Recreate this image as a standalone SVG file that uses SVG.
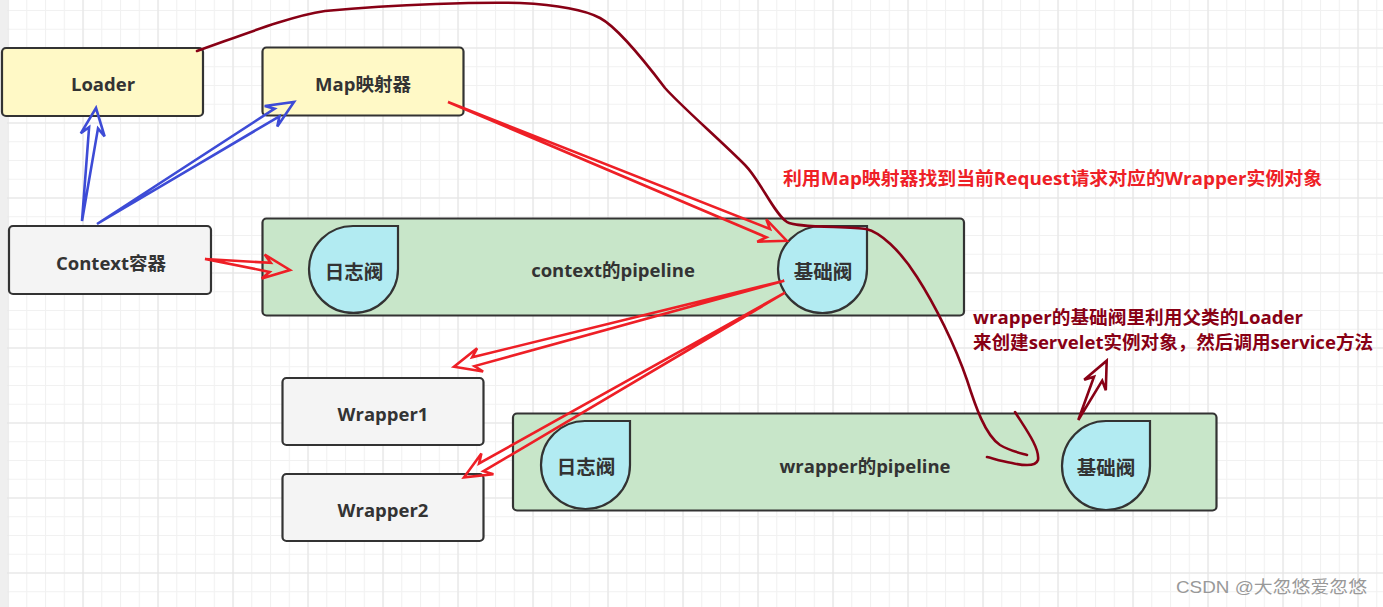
<svg xmlns="http://www.w3.org/2000/svg" width="1383" height="607" viewBox="0 0 1383 607">
<defs>
<pattern id="gs" patternUnits="userSpaceOnUse" x="7.5" y="10" width="18.75" height="18.75">
<path d="M0,0.5 H18.75 M0.5,0 V18.75" stroke="#f1f1f1" stroke-width="1.2" fill="none"/>
</pattern>
<pattern id="gl" patternUnits="userSpaceOnUse" x="7.5" y="47.5" width="75" height="75">
<path d="M0,0.5 H75 M0.5,0 V75" stroke="#e4e4e4" stroke-width="1.2" fill="none"/>
</pattern>
<style>
.box{stroke:#333;stroke-width:2.2}
.yel{fill:#fff9c6}
.gry{fill:#f4f4f4}
.pipe{fill:#c8e6c9}
.valve{fill:#b2ebf2;stroke:#333;stroke-width:2.2}
.t{font-family:"Open Sans","Noto Sans CJK SC",sans-serif;font-weight:bold;font-size:18.5px;fill:#333;text-anchor:middle;dominant-baseline:central}
.v{font-size:19.5px}
.blue{fill:none;stroke:#3d4bd6;stroke-width:2.6;stroke-linejoin:miter}
.red{fill:none;stroke:#ee1f26;stroke-width:2.6;stroke-linejoin:miter}
.dred{fill:none;stroke:#880015;stroke-width:2.6;stroke-linecap:round;stroke-linejoin:round}
.lbl{font-family:"Open Sans","Noto Sans CJK SC",sans-serif;font-weight:bold;font-size:18px}
</style>
</defs>
<rect width="1383" height="607" fill="#ffffff"/>
<rect width="1383" height="607" fill="url(#gs)"/>
<rect width="1383" height="607" fill="url(#gl)"/>
<rect x="0" y="0" width="7" height="607" fill="#efefef"/>

<g id="loader"><rect class="box yel" x="2" y="48" width="201" height="68" rx="4"/><text class="t" x="103" y="83">Loader</text></g>
<g id="map"><rect class="box yel" x="262.5" y="47.5" width="201" height="68" rx="4"/><text class="t" x="363" y="83">Map映射器</text></g>
<g id="context"><rect class="box gry" x="9" y="226" width="202" height="68" rx="4"/><text class="t" x="111" y="262">Context容器</text></g>
<g id="ctxpipe"><rect class="box pipe" x="262.5" y="218.5" width="701.5" height="97" rx="4"/><text class="t" x="613" y="269">context的pipeline</text></g>
<g id="ctxlog"><path class="valve" d="M353,226 H398 V269 A44.5,44 0 0 1 309,269 A44,43 0 0 1 353,226 Z"/><text class="t v" x="354" y="271">日志阀</text></g>
<g id="ctxbase"><path class="valve" d="M822,226 H867 V269 A44.5,44 0 0 1 778,269 A44,43 0 0 1 822,226 Z"/><text class="t v" x="823" y="271">基础阀</text></g>
<g id="wrapper1"><rect class="box gry" x="282.5" y="378" width="201" height="67" rx="4"/><text class="t" x="383" y="413">Wrapper1</text></g>
<g id="wrapper2"><rect class="box gry" x="282.5" y="474" width="201" height="67" rx="4"/><text class="t" x="383" y="509">Wrapper2</text></g>
<g id="wrpipe"><rect class="box pipe" x="513" y="413.5" width="703.5" height="97" rx="4"/><text class="t" x="865" y="465">wrapper的pipeline</text></g>
<g id="wrlog"><path class="valve" d="M586,421 H630 V465 A44.5,44 0 0 1 541,465 A44,44 0 0 1 586,421 Z"/><text class="t v" x="586" y="466">日志阀</text></g>
<g id="wrbase"><path class="valve" d="M1106,421 H1150 V466 A44,44 0 0 1 1062,466 A44,45 0 0 1 1106,421 Z"/><text class="t v" x="1106" y="467">基础阀</text></g>

<g id="connectors">
<polygon class="blue" points="82,221 89.1,127.3 80.8,133.3 96,108 104.6,136.3 98,128.4"/>
<polygon class="blue" points="97,224 274.6,108.7 264.7,106 294,102 277.3,126.4 279.4,116.3"/>
<polygon class="red" points="205,259 270.8,262.9 264.7,254.6 290,270 261.7,278.4 269.6,271.9"/>
<polygon class="red" points="448,102 769.9,228.9 766.3,219.4 786.7,240.7 757.2,241.6 766.5,237.3"/>
<polygon class="red" points="784.3,280.7 474.5,366.1 483.1,371.5 454,366.7 477.1,348.3 472.2,357.3"/>
<polygon class="red" points="785,292.7 483.5,471.2 493.4,474.2 464,477.3 481.4,453.4 479.1,463.4"/>
<polygon class="dred" style="stroke-linejoin:miter" points="1078.3,420 1094,376.8 1084.2,379.8 1106.7,360.7 1105.8,390.2 1102.2,380.6"/>
<path class="dred" d="M197,51 C240,36 290,16 325,11 C400,4 480,2 520,3 C560,5 585,10 600,18 C615,26 640,55 665,88 C680,105 720,140 745,165 C760,180 775,215 787,222 C795,228 850,226 866,229 C880,232 900,250 917,277 C935,305 955,345 967,380 C975,405 985,435 1000,445 C1010,451 1020,453 1027,455"/>
<path class="dred" d="M1015,412 C1025,428 1040,448 1038,460 C1036,466 1025,466 1012,463 C1000,461 992,458 987,457"/>
</g>

<text class="lbl" x="783" y="185" fill="#ee2026" textLength="539" lengthAdjust="spacingAndGlyphs">利用Map映射器找到当前Request请求对应的Wrapper实例对象</text>
<text class="lbl" x="973" y="324" fill="#880015" textLength="330" lengthAdjust="spacingAndGlyphs">wrapper的基础阀里利用父类的Loader</text>
<text class="lbl" x="973" y="349" fill="#880015" textLength="400" lengthAdjust="spacingAndGlyphs">来创建servelet实例对象，然后调用service方法</text>
<text x="1176" y="593" font-family="Liberation Sans,'Noto Sans CJK SC',sans-serif" font-size="17" fill="#999999" textLength="191" lengthAdjust="spacingAndGlyphs">CSDN @大忽悠爱忽悠</text>
</svg>
